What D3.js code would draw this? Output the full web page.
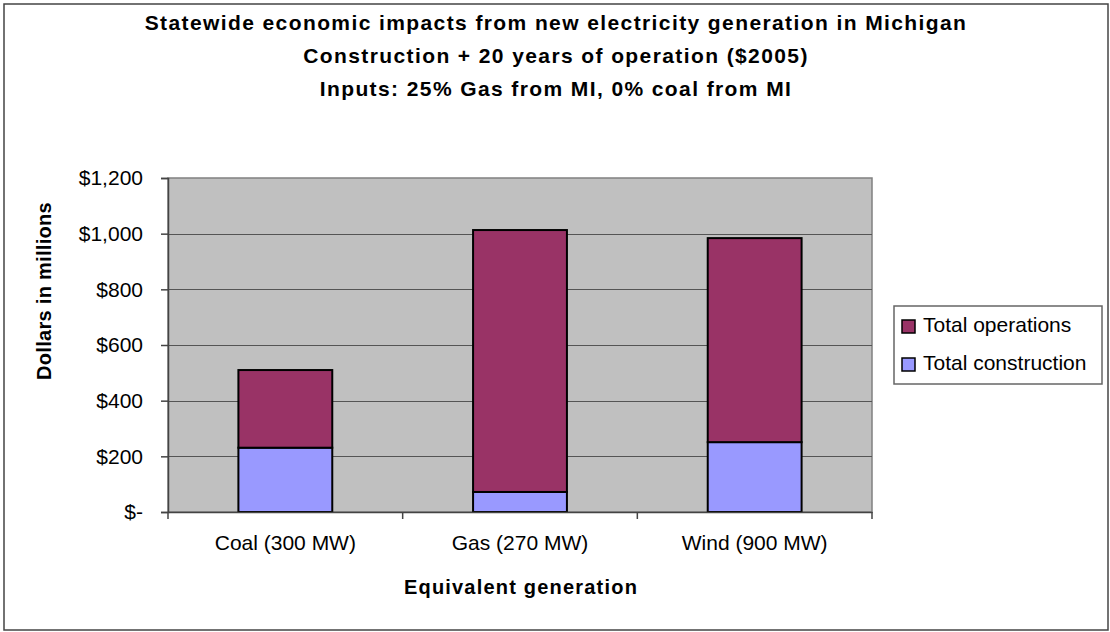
<!DOCTYPE html>
<html>
<head>
<meta charset="utf-8">
<script src="https://cdn.jsdelivr.net/npm/d3@7"></script>
<style>
body { margin: 0; background: #fff; }
svg text { font-family: "Liberation Sans", Arial, sans-serif; fill: #000; }
</style>
</head>
<body>
<svg id="chart"></svg>
<script>
// data (millions of $2005)
const categories = ["Coal (300 MW)", "Gas (270 MW)", "Wind (900 MW)"];
const construction = [231, 72, 251];
const operations = [279, 941, 733];
const seriesNames = ["Total construction", "Total operations"];
const yTicks = [0, 200, 400, 600, 800, 1000, 1200];
const titleLines = [
  "Statewide economic impacts from new electricity generation in Michigan",
  "Construction + 20 years of operation ($2005)",
  "Inputs: 25% Gas from MI, 0% coal from MI"
];

let width = 1110, height = 632;
let plot = {left: 168, top: 178, right: 872, bottom: 512};
let colors = {"Total construction": "#9999ff", "Total operations": "#993366"};

let svg = d3.select("#chart").attr("width", width).attr("height", height);

// outer frame
svg.append("rect")
  .attr("x", 4).attr("y", 4)
  .attr("width", 1104).attr("height", 626)
  .attr("fill", "#fff").attr("stroke", "#444").attr("stroke-width", 1.5);

// title
svg.append("g").selectAll("text")
  .data(titleLines).enter()
  .append("text")
  .attr("x", 556)
  .attr("y", (d, i) => 30 + i * 33)
  .attr("text-anchor", "middle")
  .style("font-size", "21px")
  .style("font-weight", "bold")
  .style("letter-spacing", "1.4px")
  .text(d => d);

let scaleX = d3.scaleBand()
  .domain(categories)
  .range([plot.left, plot.right])
  .paddingInner(0.6).paddingOuter(0.3);
let scaleY = d3.scaleLinear()
  .domain([0, 1200])
  .range([plot.bottom, plot.top]);

// plot background
svg.append("rect")
  .attr("x", plot.left).attr("y", plot.top)
  .attr("width", plot.right - plot.left).attr("height", plot.bottom - plot.top)
  .attr("fill", "#c0c0c0").attr("stroke", "#808080").attr("stroke-width", 1.5);

// gridlines
svg.append("g").selectAll("line")
  .data(yTicks.filter(d => d > 0 && d < 1200)).enter()
  .append("line")
  .attr("x1", plot.left).attr("x2", plot.right)
  .attr("y1", d => Math.round(scaleY(d)) + 0.5).attr("y2", d => Math.round(scaleY(d)) + 0.5)
  .attr("stroke", "#555").attr("stroke-width", 1);

// stacked bars
let table = categories.map((c, i) => ({
  cat: c,
  "Total construction": construction[i],
  "Total operations": operations[i]
}));
let stack = d3.stack().keys(seriesNames)(table);

svg.append("g").selectAll("g")
  .data(stack).enter()
  .append("g")
  .attr("fill", d => colors[d.key])
  .selectAll("rect")
  .data(d => d).enter()
  .append("rect")
  .attr("x", d => scaleX(d.data.cat))
  .attr("width", scaleX.bandwidth())
  .attr("y", d => scaleY(d[1]))
  .attr("height", d => scaleY(d[0]) - scaleY(d[1]))
  .attr("stroke", "#000")
  .attr("stroke-width", 2);

// y axis
let fmt = d => d == 0 ? "$-" : "$" + d3.format(",")(d);
let axisY = d3.axisLeft(scaleY).tickValues(yTicks).tickFormat(fmt).tickSize(7).tickPadding(18);
let gy = svg.append("g")
  .attr("transform", `translate(${plot.left}, 0)`)
  .call(axisY);
gy.select(".domain").attr("stroke", "#444").attr("stroke-width", 1.5);
gy.selectAll(".tick line").attr("stroke", "#444").attr("stroke-width", 1.5);
gy.selectAll("text").style("font-size", "21px").attr("fill", "#000");

// x axis, ticks between categories
let axisX = d3.axisBottom(scaleX).tickSize(0).tickPadding(23);
let gx = svg.append("g")
  .attr("transform", `translate(0, ${plot.bottom})`)
  .call(axisX);
gx.select(".domain").attr("stroke", "#444").attr("stroke-width", 1.5);
gx.selectAll("text").style("font-size", "21px").attr("fill", "#000");
let step = scaleX.step();
let bounds = [plot.left].concat(categories.map(c => scaleX(c) + scaleX.bandwidth() + (step - scaleX.bandwidth()) / 2));
gx.append("g").selectAll("line")
  .data(bounds).enter()
  .append("line")
  .attr("x1", d => d).attr("x2", d => d)
  .attr("y1", 0).attr("y2", 7)
  .attr("stroke", "#444").attr("stroke-width", 1.5);

// axis titles
svg.append("text")
  .attr("x", 521).attr("y", 594)
  .attr("text-anchor", "middle")
  .style("font-size", "20px").style("font-weight", "bold")
  .style("letter-spacing", "1.2px")
  .text("Equivalent generation");
svg.append("text")
  .attr("transform", "translate(51, 291) rotate(-90)")
  .attr("text-anchor", "middle")
  .style("font-size", "20px").style("font-weight", "bold")
  .style("letter-spacing", "0.3px")
  .text("Dollars in millions");

// legend
let legend = svg.append("g");
legend.append("rect")
  .attr("x", 894).attr("y", 306)
  .attr("width", 208).attr("height", 78)
  .attr("fill", "#fff").attr("stroke", "#666").attr("stroke-width", 1.5);
let legendItems = ["Total operations", "Total construction"];
let li = legend.selectAll(".item")
  .data(legendItems).enter()
  .append("g")
  .attr("transform", (d, i) => `translate(902, ${320 + i * 38})`);
li.append("rect")
  .attr("width", 13).attr("height", 13)
  .attr("fill", d => colors[d]).attr("stroke", "#000").attr("stroke-width", 1.5);
li.append("text")
  .attr("x", 21).attr("y", 12)
  .style("font-size", "21px")
  .text(d => d);
</script>
</body>
</html>
